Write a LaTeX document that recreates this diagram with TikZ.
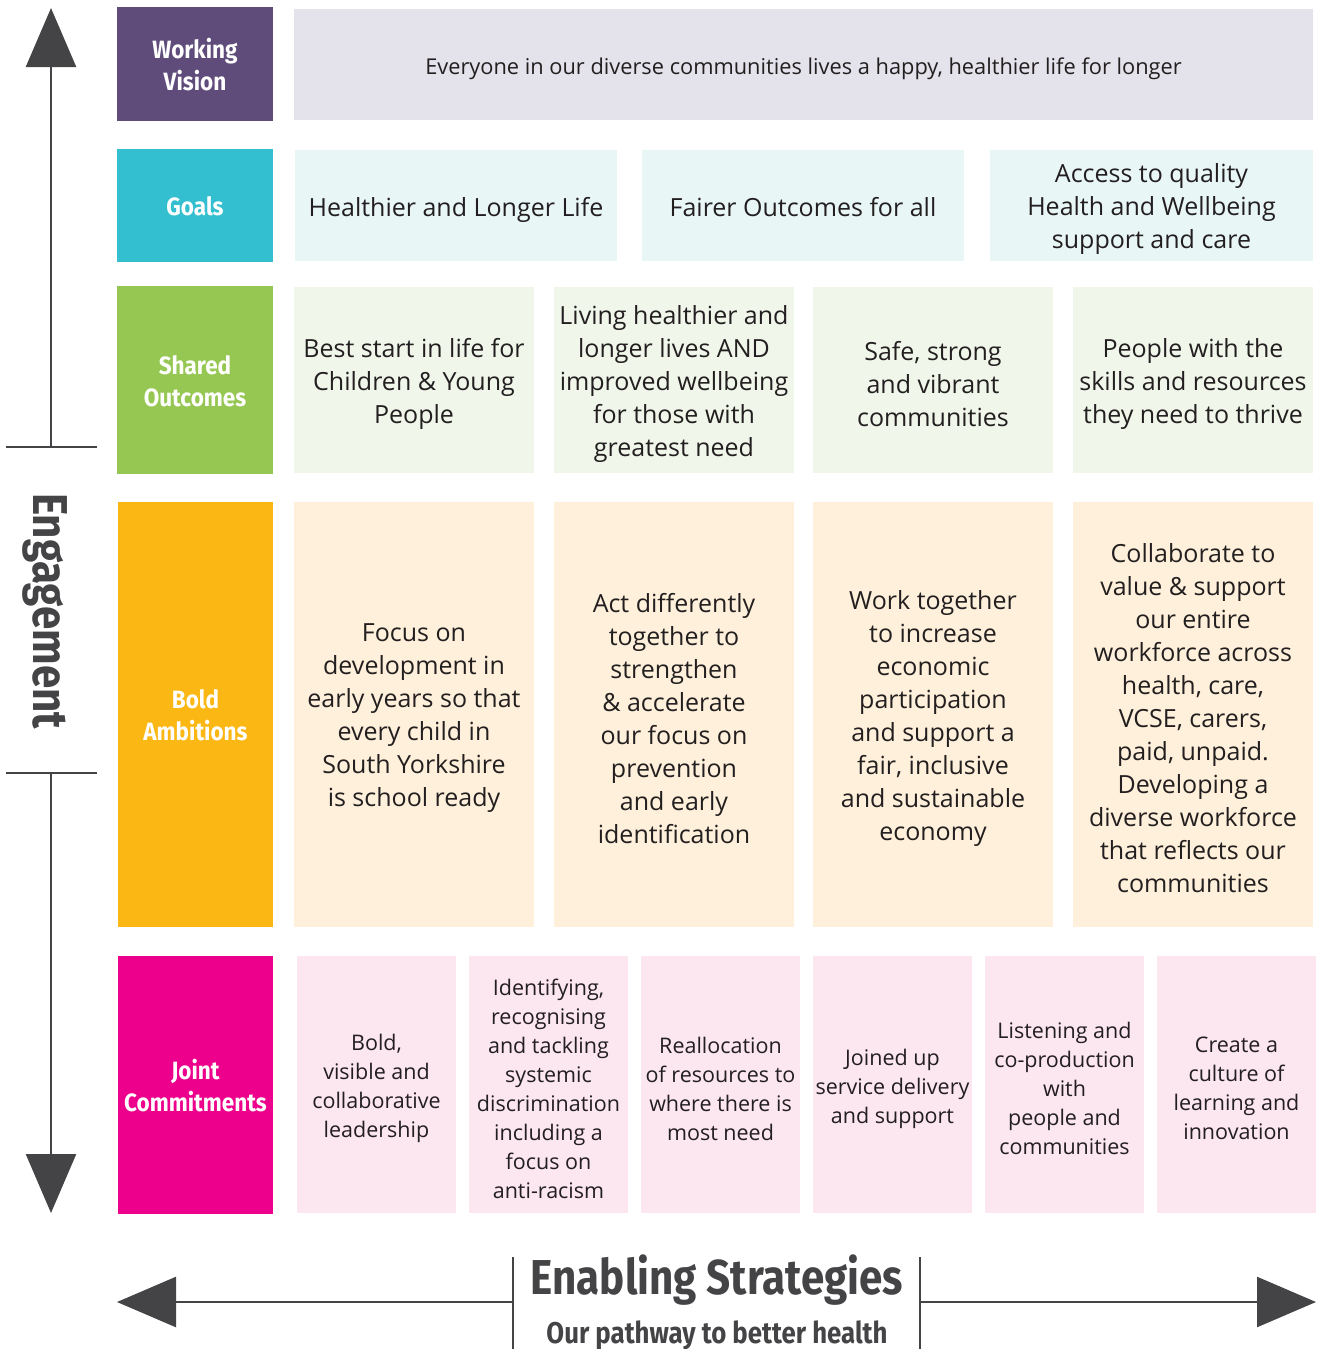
\documentclass[tikz,border=0pt]{standalone}
\usepackage{fontspec}
\setmainfont{Open Sans}
\newfontfamily\dinlab[FakeStretch=0.9]{Fira Sans}
\newfontfamily\dintit[FakeStretch=0.86]{Fira Sans}
\usetikzlibrary{arrows.meta}
\definecolor{axis}{HTML}{444446}
\definecolor{txt}{HTML}{231F20}
\definecolor{cVis}{HTML}{5F4C7B}
\definecolor{lVis}{HTML}{E4E2EA}
\definecolor{cGoal}{HTML}{33BFCF}
\definecolor{lGoal}{HTML}{E9F6F6}
\definecolor{cOut}{HTML}{96C753}
\definecolor{lOut}{HTML}{F0F6EA}
\definecolor{cAmb}{HTML}{FBB714}
\definecolor{lAmb}{HTML}{FEF0DA}
\definecolor{cJnt}{HTML}{EC008C}
\definecolor{lJnt}{HTML}{FCE6F0}
\tikzset{
  fillbox/.style={inner sep=0pt, outer sep=0pt},
  celltext/.style={inner sep=0pt, align=center, text=txt, yshift=-4pt, font=\fontsize{25}{33}\selectfont},
  labtext/.style={inner sep=0pt, align=center, text=white, yshift=-1pt, font=\dinlab\bfseries\fontsize{25}{32}\selectfont},
  smallcell/.style={font=\fontsize{21.5}{29}\selectfont},
  visioncell/.style={font=\fontsize{21.8}{28}\selectfont},
  axisline/.style={draw=axis, line width=2.5pt},
  tickline/.style={draw=axis, line width=2pt},
  bigtip/.style={-{Triangle[width=50pt,length=59pt]}},
}
% #1 text style, #2..#5 box, #6 name, #7 fill, #8 text
\newcommand\cell[8][celltext]{%
  \node[fillbox,fill=#7,minimum width={#4-#2},minimum height={#5-#3}] (#6) at ({(#2+#4)/2},{(#3+#5)/2}) {};
  \node[#1] (#6-t) at (#6.center) {#8};}
\begin{document}
\begin{tikzpicture}[x=1pt,y=-1pt]
\useasboundingbox (0,0) rectangle (1317,1349);
% labels
\cell[labtext]{117}{7}{273}{121}{lvis}{cVis}{Working\\Vision}
\cell[labtext]{117}{149}{273}{262}{lgoal}{cGoal}{Goals}
\cell[labtext]{117}{286}{273}{474}{lout}{cOut}{Shared\\Outcomes}
\cell[labtext]{118}{502}{273}{927}{lamb}{cAmb}{Bold\\Ambitions}
\cell[labtext]{118}{956}{273}{1214}{ljnt}{cJnt}{Joint\\Commitments}
% vision
\cell[celltext,visioncell]{294}{9}{1313}{120}{vis}{lVis}{Everyone in our diverse communities lives a happy, healthier life for longer}
% goals
\cell{295}{150}{617}{261}{g1}{lGoal}{Healthier and Longer Life}
\cell{642}{150}{964}{261}{g2}{lGoal}{Fairer Outcomes for all\vphantom{g}}
\cell{990}{150}{1313}{261}{g3}{lGoal}{Access to quality\\Health and Wellbeing\\support and care}
% outcomes
\cell{294}{287}{534}{473}{o1}{lOut}{Best start in life for\\Children \& Young\\People}
\cell{554}{287}{794}{473}{o2}{lOut}{Living healthier and\\longer lives AND\\improved wellbeing\\for those with\\greatest need}
\cell{813}{287}{1053}{473}{o3}{lOut}{Safe, strong\\and vibrant\\communities}
\cell{1073}{287}{1313}{473}{o4}{lOut}{People with the\\skills and resources\\they need to thrive}
% ambitions
\cell{294}{502}{534}{927}{a1}{lAmb}{Focus on\\development in\\early years so that\\every child in\\South Yorkshire\\is school ready}
\cell{554}{502}{794}{927}{a2}{lAmb}{Act differently\\together to\\strengthen\\\& accelerate\\our focus on\\prevention\\and early\\identification}
\cell{813}{502}{1053}{927}{a3}{lAmb}{Work together\\to increase\\economic\\participation\\and support a\\fair, inclusive\\and sustainable\\economy}
\cell{1073}{502}{1313}{927}{a4}{lAmb}{Collaborate to\\value \& support\\our entire\\workforce across\\health, care,\\VCSE, carers,\\paid, unpaid.\\Developing a\\diverse workforce\\that reflects our\\communities}
% commitments
\cell[celltext,smallcell]{297}{956}{456}{1213}{j1}{lJnt}{Bold,\\visible and\\collaborative\\leadership}
\cell[celltext,smallcell]{469}{956}{628}{1213}{j2}{lJnt}{Identifying,\\recognising\\and tackling\\systemic\\discrimination\\including a\\focus on\\anti-racism}
\cell[celltext,smallcell]{641}{956}{800}{1213}{j3}{lJnt}{Reallocation\\of resources to\\where there is\\most need}
\cell[celltext,smallcell]{813}{956}{972}{1213}{j4}{lJnt}{Joined up\\service delivery\\and support}
\cell[celltext,smallcell]{985}{956}{1144}{1213}{j5}{lJnt}{Listening and\\co-production\\with\\people and\\communities}
\cell[celltext,smallcell]{1157}{956}{1316}{1213}{j6}{lJnt}{Create a\\culture of\\learning and\\innovation}
% engagement axis
\coordinate (tUp) at (51,8);
\coordinate (tickA) at (51,447);
\coordinate (tickB) at (51,773);
\coordinate (tDown) at (51,1213);
\coordinate (tickAl) at (6,447);
\coordinate (tickAr) at (97,447);
\coordinate (tickBl) at (6,773);
\coordinate (tickBr) at (97,773);
\draw[axisline,bigtip] (tickA) -- (tUp);
\draw[axisline,bigtip] (tickB) -- (tDown);
\draw[tickline] (tickAl) -- (tickAr);
\draw[tickline] (tickBl) -- (tickBr);
\node[text=axis, font=\dintit\bfseries\fontsize{49}{50}\selectfont, rotate=-90, inner sep=0pt] (eng) at (45,611) {Engagement};
% enabling strategies axis
\coordinate (barL) at (513,1302);
\coordinate (barR) at (920,1302);
\coordinate (tLeft) at (117,1302);
\coordinate (tRight) at (1316,1302);
\coordinate (barLt) at (513,1257);
\coordinate (barLb) at (513,1349);
\coordinate (barRt) at (920,1257);
\coordinate (barRb) at (920,1349);
\draw[axisline,bigtip] (barL) -- (tLeft);
\draw[axisline,bigtip] (barR) -- (tRight);
\draw[tickline] (barLt) -- (barLb);
\draw[tickline] (barRt) -- (barRb);
\node[text=axis, font=\dintit\bfseries\fontsize{49}{50}\selectfont, inner sep=0pt, anchor=base] (es) at (717,1294) {Enabling Strategies};
\node[text=axis, font=\dintit\bfseries\fontsize{30}{32}\selectfont, inner sep=0pt, anchor=base] (pw) at (717,1343) {Our pathway to better health};
\end{tikzpicture}
\end{document}
